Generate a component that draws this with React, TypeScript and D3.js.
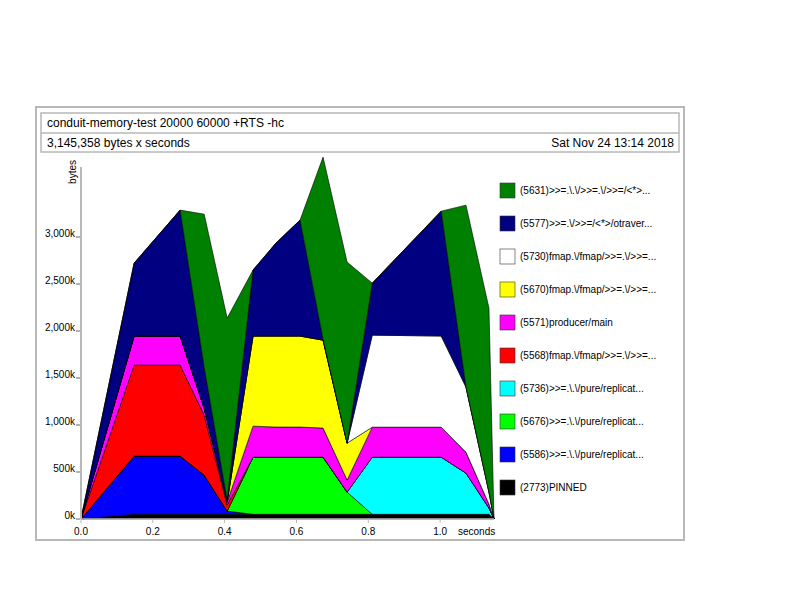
import * as d3 from 'd3';

// sample times (seconds)
const times = [0, 0.148, 0.276, 0.343, 0.407, 0.479, 0.543, 0.61, 0.674, 0.741, 0.811, 1.003, 1.072, 1.136, 1.15];

// heap by cost centre, in kbytes (bottom of stack first)
const pinned = [0, 50, 50, 50, 50, 50, 50, 50, 50, 50, 50, 50, 50, 50, 0];
const cc5586 = [0, 619, 619, 417, 34, 0, 0, 0, 0, 0, 0, 0, 0, 0, 0];
const cc5676 = [0, 0, 0, 0, 0, 608, 608, 608, 608, 236, 0, 0, 0, 0, 0];
const cc5736 = [0, 0, 0, 0, 0, 0, 0, 0, 0, 0, 608, 608, 438, 66, 0];
const cc5568 = [0, 968, 968, 638, 64, 0, 0, 0, 0, 0, 0, 0, 0, 0, 0];
const cc5571 = [0, 309, 309, 75, 32, 330, 320, 320, 309, 128, 319, 319, 223, 42, 0];
const cc5670 = [0, 0, 0, 0, 0, 958, 968, 968, 936, 393, 0, 0, 0, 0, 0];
const cc5730 = [0, 0, 0, 0, 0, 0, 0, 0, 0, 0, 979, 969, 692, 128, 0];
const cc5577 = [0, 776, 1340, 436, 21, 702, 989, 1234, 10, 0, 553, 1329, 0, 0, 0];
const cc5631 = [0, 0, 0, 1627, 1936, 0, 0, 0, 1937, 1926, 0, 0, 1936, 1957, 0];

const series = [
  { key: 'pinned', label: '(2773)PINNED', color: '#000000', values: pinned },
  { key: 'cc5586', label: '(5586)>>=.\\.\\/pure/replicat...', color: '#0000ff', values: cc5586 },
  { key: 'cc5676', label: '(5676)>>=.\\.\\/pure/replicat...', color: '#00ff00', values: cc5676 },
  { key: 'cc5736', label: '(5736)>>=.\\.\\/pure/replicat...', color: '#00ffff', values: cc5736 },
  { key: 'cc5568', label: '(5568)fmap.\\/fmap/>>=.\\/>>=...', color: '#ff0000', values: cc5568 },
  { key: 'cc5571', label: '(5571)producer/main', color: '#ff00ff', values: cc5571 },
  { key: 'cc5670', label: '(5670)fmap.\\/fmap/>>=.\\/>>=...', color: '#ffff00', values: cc5670 },
  { key: 'cc5730', label: '(5730)fmap.\\/fmap/>>=.\\/>>=...', color: '#ffffff', values: cc5730 },
  { key: 'cc5577', label: '(5577)>>=.\\/>>=/<*>/otraver...', color: '#000080', values: cc5577 },
  { key: 'cc5631', label: '(5631)>>=.\\.\\/>>=.\\/>>=/<*>...', color: '#008000', values: cc5631 },
];

const xTicks = [0, 0.2, 0.4, 0.6, 0.8, 1.0];
const yTicks = [0, 500, 1000, 1500, 2000, 2500, 3000];

const FONT = '"Liberation Sans", Helvetica, Arial, sans-serif';
const GREY = '#b8b8b8';

export default function App() {
  const x = d3.scaleLinear().domain([0, 1.15]).range([81, 494]);
  const y = d3.scaleLinear().domain([0, 3000]).range([519, 237]);

  const rows = times.map((t, i) => {
    const r: Record<string, number> = { t };
    series.forEach(s => { r[s.key] = s.values[i]; });
    return r;
  });
  const stacked = d3.stack<Record<string, number>>().keys(series.map(s => s.key))(rows);

  const area = d3.area<d3.SeriesPoint<Record<string, number>>>()
    .x(d => x(d.data.t))
    .y0(d => y(d[0]))
    .y1(d => y(d[1]));

  const fmt = d3.format(',');
  const legend = [...series].reverse();

  return (
    <svg width={792} height={612} style={{ position: 'absolute', left: 0, top: 0, background: '#fff' }}
      fontFamily={FONT}>
      {/* frame and title boxes */}
      <rect x={36} y={107} width={648} height={433} fill="none" stroke={GREY} strokeWidth={2} />
      <rect x={41} y={113} width={638} height={39} fill="none" stroke={GREY} strokeWidth={1.5} />
      <line x1={41} x2={679} y1={133} y2={133} stroke={GREY} strokeWidth={1.5} />
      <text x={47} y={127} fontSize={12}>conduit-memory-test 20000 60000 +RTS -hc</text>
      <text x={47} y={147} fontSize={12}>3,145,358 bytes x seconds</text>
      <text x={674} y={147} fontSize={12} textAnchor="end">Sat Nov 24 13:14 2018</text>

      {/* bands */}
      {stacked.map((layer, i) => (
        <path key={layer.key} d={area(layer) ?? ''} fill={series[i].color}
          stroke="#000" strokeWidth={0.6} strokeLinejoin="round" />
      ))}

      {/* axes */}
      <line x1={81} x2={81} y1={y(0)} y2={167} stroke={GREY} strokeWidth={2} />
      <line x1={81} x2={x(1.15)} y1={y(0)} y2={y(0)} stroke={GREY} strokeWidth={1.5} />
      <text transform={`translate(76,160) rotate(-90)`} fontSize={10} textAnchor="end">bytes</text>
      {yTicks.map(v => (
        <g key={v}>
          <line x1={76} x2={80} y1={y(v)} y2={y(v)} stroke="#000" strokeWidth={0.6} />
          <text x={75} y={y(v)} fontSize={10} textAnchor="end">{fmt(v)}k</text>
        </g>
      ))}
      {xTicks.map(v => (
        <g key={v}>
          <line x1={x(v)} x2={x(v)} y1={y(0)} y2={y(0) + 4} stroke={GREY} strokeWidth={1} />
          <text x={x(v)} y={535} fontSize={10} textAnchor="middle">{d3.format('.1f')(v)}</text>
        </g>
      ))}
      <text x={458} y={535} fontSize={10}>seconds</text>

      {/* legend */}
      {legend.map((s, i) => (
        <g key={s.key}>
          <rect x={500} y={183 + 33 * i} width={15} height={15} fill={s.color} stroke="#333" strokeWidth={0.6} />
          <text x={520} y={194 + 33 * i} fontSize={10}>{s.label}</text>
        </g>
      ))}
    </svg>
  );
}
